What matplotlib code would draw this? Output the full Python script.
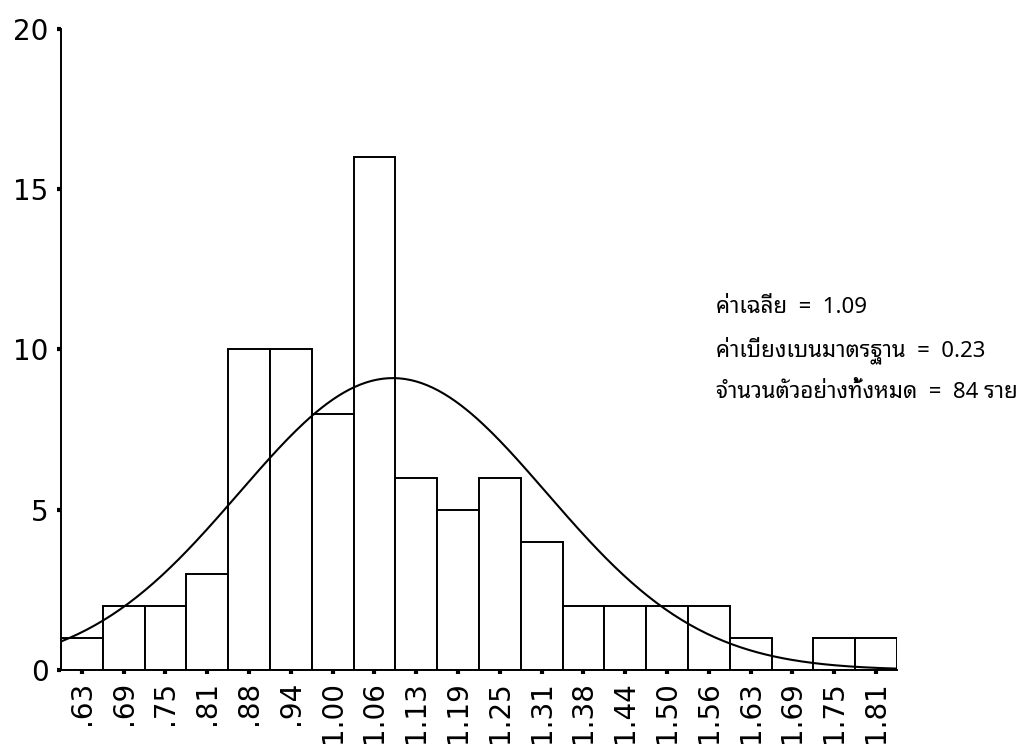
import numpy as np
import matplotlib
matplotlib.use("Agg")
import matplotlib.pyplot as plt

# bin centres (width 0.0625) and their printed labels
bin_centers = [0.625, 0.6875, 0.75, 0.8125, 0.875, 0.9375, 1.0, 1.0625, 1.125, 1.1875,
               1.25, 1.3125, 1.375, 1.4375, 1.5, 1.5625, 1.625, 1.6875, 1.75, 1.8125]
bin_labels = [".63", ".69", ".75", ".81", ".88", ".94", "1.00", "1.06", "1.13", "1.19",
              "1.25", "1.31", "1.38", "1.44", "1.50", "1.56", "1.63", "1.69", "1.75", "1.81"]
counts = [1, 2, 2, 3, 10, 10, 8, 16, 6, 5, 6, 4, 2, 2, 2, 2, 1, 0, 1, 1]

mean_val = 1.09
sd_val = 0.23
n_total = 84
bin_width = 0.0625

stats_lines = ["ค่าเฉลี่ย  =  1.09",
               "ค่าเบี่ยงเบนมาตรฐาน  =  0.23",
               "จำนวนตัวอย่างทั้งหมด  =  84 ราย"]
thai_fonts = ["Noto Sans Thai Looped", "Sarabun", "Noto Sans Thai", "DejaVu Sans"]


def main():
    fig = plt.figure(figsize=(10.18, 7.44), dpi=100)
    ax = fig.add_axes([0.0599, 0.0995, 0.8212, 0.8616])

    ax.bar(bin_centers, counts, width=bin_width, color="white",
           edgecolor="black", linewidth=1.4, zorder=2)

    # normal curve scaled to the histogram
    lo = bin_centers[0] - bin_width / 2
    hi = bin_centers[-1] + bin_width / 2
    xs = np.linspace(lo, hi, 300)
    ys = n_total * bin_width / (sd_val * np.sqrt(2 * np.pi)) * np.exp(-0.5 * ((xs - mean_val) / sd_val) ** 2)
    ax.plot(xs, ys, color="black", lw=1.5, zorder=3)

    ax.set_xlim(lo, hi)
    ax.set_ylim(0, 20)
    ax.set_yticks([0, 5, 10, 15, 20])
    ax.set_xticks(bin_centers)
    ax.set_xticklabels(bin_labels, rotation=90)

    for side in ("top", "right"):
        ax.spines[side].set_visible(False)
    ax.spines["left"].set_linewidth(1.4)
    ax.spines["bottom"].set_linewidth(1.4)
    ax.tick_params(axis="both", direction="out", length=3, width=3,
                   labelsize=20, color="black")
    ax.tick_params(axis="y", pad=6)
    ax.tick_params(axis="x", pad=5)

    for y, line in zip([0.587, 0.529, 0.473], stats_lines):
        fig.text(0.7033, y, line, fontsize=16,
                 family=thai_fonts, va="center", ha="left")

    fig.savefig("out.png", dpi=100)


if __name__ == "__main__":
    main()
